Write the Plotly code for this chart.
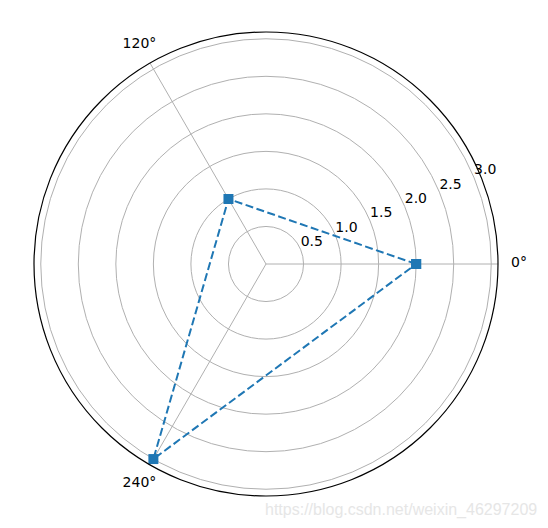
import plotly.graph_objects as go

theta_deg = [0, 120, 240, 0]
r_vals = [2, 1, 3, 2]
radial_ticks = [0.5, 1.0, 1.5, 2.0, 2.5, 3.0]
radial_ticktext = ["0.5", "1.0", "1.5", "2.0", "2.5", "3.0"]
radial_label_angle = 22.5
angle_ticks = [0, 120, 240]
angle_ticktext = ["0°", "120°", "240°"]
r_max = 3.09
angle_label_r = 3.37
r_max_outer = 3.40

fig = go.Figure()
fig.add_trace(go.Scatterpolar(
    r=r_vals, theta=theta_deg, mode="lines+markers",
    line=dict(color="#1f77b4", dash="8px,3.5px", width=2),
    marker=dict(symbol="square", size=10, color="#1f77b4"),
    showlegend=False, cliponaxis=False,
))
# radial tick labels (matplotlib style: horizontal, upper-right of the 22.5° ray)
fig.add_trace(go.Scatterpolar(
    r=radial_ticks, theta=[radial_label_angle] * len(radial_ticks),
    mode="text", text=radial_ticktext, textposition="top right",
    textfont=dict(family="DejaVu Sans", size=14, color="black"),
    showlegend=False, cliponaxis=False, hoverinfo="skip",
))
# angular tick labels, centred outside the rim (on a concentric, invisible polar)
fig.add_trace(go.Scatterpolar(
    r=[angle_label_r] * len(angle_ticks), theta=angle_ticks,
    mode="text", text=angle_ticktext, textposition="middle center",
    textfont=dict(family="DejaVu Sans", size=14, color="black"),
    showlegend=False, cliponaxis=False, hoverinfo="skip", subplot="polar2",
))

W, H = 548, 528
OX, OY = 8, 8  # page body offset
cx, cy, R = 266 - OX, 264 - OY, 232
R2 = R * r_max_outer / r_max
fig.update_layout(
    width=W, height=H,
    margin=dict(l=0, r=0, t=0, b=0),
    paper_bgcolor="white",
    font=dict(family="DejaVu Sans", size=14, color="black"),
    polar=dict(
        domain=dict(x=[(cx - R) / W, (cx + R) / W], y=[1 - (cy + R) / H, 1 - (cy - R) / H]),
        bgcolor="white",
        radialaxis=dict(
            range=[0, r_max], tickvals=radial_ticks, showticklabels=False,
            angle=radial_label_angle, showline=False, ticks="",
            gridcolor="#b0b0b0", gridwidth=0.8,
        ),
        angularaxis=dict(
            tickmode="array", tickvals=angle_ticks, showticklabels=False,
            direction="counterclockwise", rotation=0,
            showline=True, linecolor="black", linewidth=1.2,
            gridcolor="#b0b0b0", gridwidth=0.8, ticks="",
        ),
    ),
    polar2=dict(
        domain=dict(x=[(cx - R2) / W, (cx + R2) / W], y=[1 - (cy + R2) / H, 1 - (cy - R2) / H]),
        bgcolor="rgba(0,0,0,0)",
        radialaxis=dict(range=[0, r_max_outer], visible=False),
        angularaxis=dict(
            direction="counterclockwise", rotation=0, showline=False,
            showgrid=False, showticklabels=False, ticks="",
        ),
    ),
    annotations=[dict(
        text="https://blog.csdn.net/weixin_46297209", x=(539 - OX) / W, y=1 - (510 - OY) / H,
        xref="paper", yref="paper", xanchor="right", yanchor="middle",
        showarrow=False, font=dict(family="Liberation Sans", size=16, color="#e6e6e6"),
    )],
)
fig.write_html("out.html")
